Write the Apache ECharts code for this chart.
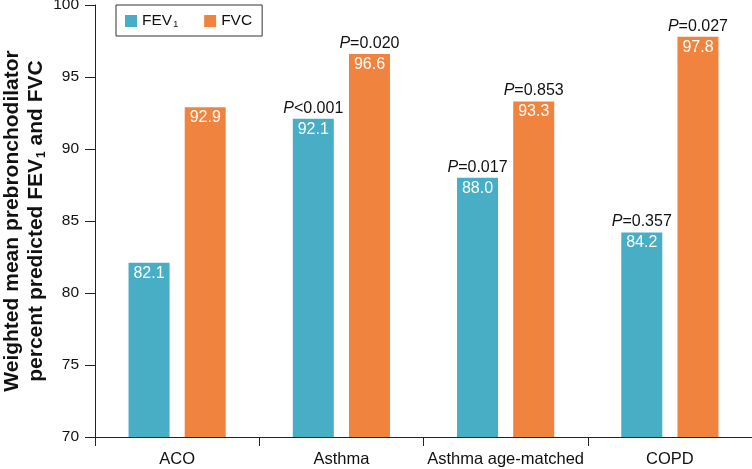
<!DOCTYPE html>
<html><head><meta charset="utf-8">
<script src="https://cdn.jsdelivr.net/npm/echarts@6/dist/echarts.min.js"></script>
<style>html,body{margin:0;padding:0;background:#fff}#c{width:752px;height:469px}</style>
</head><body><div id="c"></div>
<script>
var categories = ['ACO', 'Asthma', 'Asthma age-matched', 'COPD'];
var fev1 = [82.1, 92.1, 88.0, 84.2];
var fvc = [92.9, 96.6, 93.3, 97.8];
var fev1P = ['', '<0.001', '=0.017', '=0.357'];
var fvcP = ['', '=0.020', '=0.853', '=0.027'];
var yTicks = [70, 75, 80, 85, 90, 95, 100];

var FONT = 'Liberation Sans, Arial, sans-serif';
var chart = echarts.init(document.getElementById('c'), null, {renderer: 'canvas'});

function makeLabel(pArr) {
  return {
    show: true,
    position: 'insideTop',
    distance: 0,
    offset: [0, -21],
    fontFamily: FONT,
    formatter: function (p) {
      var pv = pArr[p.dataIndex];
      var first = pv ? '{i|P}{n|' + pv + '}' : '{n| }';
      return first + '\n{v|' + p.value.toFixed(1) + '}';
    },
    rich: {
      i: {fontFamily: FONT, fontStyle: 'italic', fontSize: 16, color: '#111', lineHeight: 21},
      n: {fontFamily: FONT, fontSize: 16, color: '#111', lineHeight: 21},
      v: {fontFamily: FONT, fontSize: 16, color: '#fff', lineHeight: 21}
    }
  };
}

var option = {
  animation: false,
  grid: {left: 95, right: 0, top: 5, bottom: 32, containLabel: false, outerBoundsMode: 'none'},
  legend: {
    left: 116, top: 5,
    padding: [7, 10, 7, 9],
    borderColor: '#333', borderWidth: 1,
    itemWidth: 12, itemHeight: 12, itemGap: 26,
    icon: 'rect',
    data: ['FEV1', 'FVC'],
    formatter: function (n) { return n === 'FEV1' ? '{a|FEV}{s|1}' : '{a|FVC}'; },
    textStyle: {
      fontFamily: FONT, fontSize: 15.5, color: '#111',
      rich: {
        a: {fontFamily: FONT, fontSize: 15.5, color: '#111', lineHeight: 16},
        s: {fontFamily: FONT, fontSize: 9, color: '#111', verticalAlign: 'bottom', lineHeight: 16, padding: [8, 0, 0, 1]}
      }
    }
  },
  xAxis: {
    type: 'category',
    data: categories,
    axisLine: {lineStyle: {color: '#222', width: 1}},
    axisTick: {show: true, length: 9, interval: 0, lineStyle: {color: '#222'}},
    axisLabel: {fontFamily: FONT, fontSize: 16.5, color: '#111', margin: 14, interval: 0}
  },
  yAxis: {
    type: 'value',
    min: yTicks[0], max: yTicks[yTicks.length - 1], interval: 5,
    axisLine: {show: true, lineStyle: {color: '#222', width: 1}},
    axisTick: {show: true, length: 10, lineStyle: {color: '#222'}},
    splitLine: {show: false},
    axisLabel: {fontFamily: FONT, fontSize: 15.5, color: '#111', margin: 16},
    name: '{b|Weighted mean prebronchodilator}\n{b|percent predicted FEV}{s|1}{b| and FVC}',
    nameLocation: 'middle',
    nameGap: 47,
    nameMoveOverlap: false,
    nameTextStyle: {
      fontFamily: FONT, fontSize: 21, fontWeight: 'bold', color: '#111', align: 'center',
      rich: {
        b: {fontFamily: FONT, fontSize: 21, fontWeight: 'bold', color: '#111', lineHeight: 24, align: 'center'},
        s: {fontFamily: FONT, fontSize: 12, fontWeight: 'bold', color: '#111', lineHeight: 24, verticalAlign: 'bottom', padding: [10, 0, 0, 1], align: 'center'}
      }
    }
  },
  series: [
    {name: 'FEV1', type: 'bar', data: fev1, barWidth: 41, barGap: '37%',
     itemStyle: {color: '#47aec6'}, label: makeLabel(fev1P)},
    {name: 'FVC', type: 'bar', data: fvc, barWidth: 41,
     itemStyle: {color: '#f0843f'}, label: makeLabel(fvcP)}
  ]
};
chart.setOption(option);
</script>
</body></html>
